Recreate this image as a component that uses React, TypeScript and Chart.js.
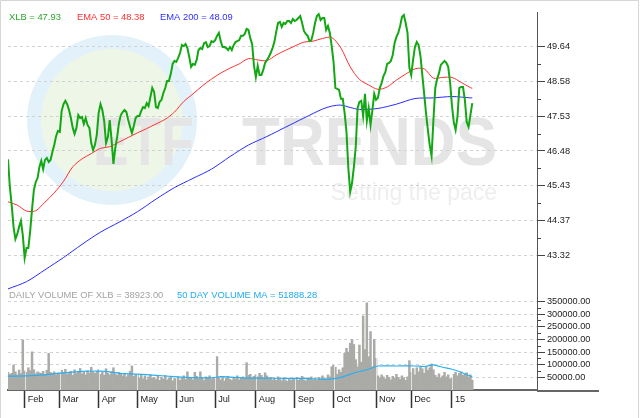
import React, { useEffect, useRef } from 'react';
import { Chart, registerables } from 'chart.js';

Chart.register(...registerables);

// ---------------- data ----------------
// x axis = trading-day index (0 = first session shown, late Jan 2014)
const monthDays = [9, 28, 49, 70, 91, 112, 134, 155, 176, 199, 218, 240];
const monthLabels = ['Feb', 'Mar', 'Apr', 'May', 'Jun', 'Jul', 'Aug', 'Sep', 'Oct', 'Nov', 'Dec', '15'];

const priceTicks = [43.32, 44.37, 45.43, 46.48, 47.53, 48.58, 49.64];
const volumeTicks = [50000, 100000, 150000, 200000, 250000, 300000, 350000];

const close = [
  46.23, 45.39, 44.84, 44.18, 43.81, 43.96, 44.18, 44.36, 43.93, 43.24,
  43.54, 43.54, 44.06, 44.72, 45.30, 45.54, 45.66, 46.00, 46.18, 45.93,
  46.21, 46.27, 46.15, 46.21, 46.45, 46.66, 46.93, 47.09, 47.06, 47.69,
  47.90, 48.00, 47.90, 47.72, 47.48, 47.18, 47.00, 47.18, 47.57, 47.48,
  47.51, 47.30, 47.48, 47.27, 47.18, 46.72, 46.51, 46.66, 46.97, 47.63,
  47.90, 47.72, 47.39, 46.72, 46.90, 47.42, 46.81, 46.09, 46.57, 46.90,
  47.33, 47.57, 47.66, 47.72, 47.66, 47.42, 47.21, 47.03, 47.24, 47.48,
  47.54, 47.54, 47.69, 47.81, 47.78, 47.93, 47.84, 48.12, 48.39, 48.27,
  47.81, 47.78, 47.97, 48.03, 48.24, 48.39, 48.60, 48.60, 48.81, 49.12,
  49.21, 49.18, 49.30, 49.45, 49.69, 49.66, 49.72, 49.60, 49.33, 49.03,
  49.12, 49.09, 49.24, 49.54, 49.60, 49.57, 49.75, 49.78, 49.63, 49.66,
  49.81, 49.78, 49.84, 49.97, 50.06, 49.81, 49.63, 49.63, 49.60, 49.54,
  49.63, 49.54, 49.69, 49.78, 49.81, 49.84, 49.97, 49.97, 50.03, 50.18,
  50.15, 49.90, 49.72, 49.06, 48.72, 49.06, 48.78, 48.78, 48.94, 49.15,
  49.24, 49.33, 49.45, 49.60, 49.78, 50.09, 50.36, 50.39, 50.24, 50.36,
  50.33, 50.42, 50.42, 50.36, 50.48, 50.42, 50.45, 50.51, 50.57, 50.36,
  50.12, 50.03, 49.97, 49.81, 49.84, 50.06, 50.36, 50.57, 50.63, 50.45,
  50.51, 50.51, 50.15, 50.27, 50.06, 49.66, 49.18, 48.39, 48.36, 48.33,
  48.06, 48.06, 47.63, 47.06, 45.96, 45.24, 45.51, 46.00, 46.60, 47.78,
  47.97, 48.00, 47.54, 48.21, 47.39, 47.78, 47.27, 47.72, 48.21, 48.03,
  48.09, 48.39, 48.54, 48.75, 48.87, 49.12, 49.15, 49.21, 49.39, 49.75,
  49.94, 50.06, 50.27, 50.54, 50.60, 50.36, 50.06, 49.00, 48.78, 49.24,
  49.63, 49.78, 49.69, 49.36, 48.78, 48.21, 47.63, 47.12, 46.66, 46.33,
  47.42, 48.39, 48.66, 48.84, 49.09, 49.15, 49.21, 49.15, 49.03, 48.57,
  47.87, 47.36, 47.12, 47.51, 48.39, 48.42, 48.42, 48.03, 47.36, 47.21,
  47.57, 47.93,
];

const ema50Days = [
  0, 5, 10, 15, 20, 25, 30, 35, 40, 45, 50, 55, 60, 65, 70, 75, 80, 85, 90, 95,
  100, 105, 110, 115, 120, 125, 130, 135, 140, 145, 150, 155, 160, 165, 170, 175,
  180, 185, 190, 195, 200, 205, 210, 215, 220, 225, 230, 235, 240, 245, 250, 251,
];
const ema50 = [
  44.94, 44.84, 44.66, 44.67, 44.93, 45.21, 45.56, 46.00, 46.24, 46.40, 46.56, 46.61,
  46.75, 46.89, 47.03, 47.16, 47.30, 47.44, 47.66, 47.98, 48.21, 48.45, 48.66, 48.84,
  48.99, 49.12, 49.28, 49.24, 49.22, 49.39, 49.53, 49.66, 49.78, 49.81, 49.89, 49.92,
  49.60, 49.03, 48.65, 48.48, 48.35, 48.42, 48.63, 48.81, 48.97, 48.97, 48.69, 48.71,
  48.71, 48.56, 48.40, 48.38,
];

const ema200Days = [
  0, 10, 20, 30, 40, 50, 60, 70, 80, 90, 100, 110, 120, 130, 140, 150, 160, 170, 175,
  180, 185, 190, 200, 210, 220, 230, 240, 250, 251,
];
const ema200 = [
  42.30, 42.52, 42.88, 43.25, 43.65, 44.02, 44.32, 44.64, 45.02, 45.37, 45.65, 45.93,
  46.31, 46.66, 46.92, 47.20, 47.48, 47.75, 47.84, 47.87, 47.80, 47.74, 47.77, 47.90,
  48.07, 48.09, 48.13, 48.09, 48.09,
];

// daily volume, thousands of shares
const volumeK = [
  70, 62, 66, 99, 72, 60, 79, 65, 198,
  75, 70, 88, 76, 151, 80, 64, 72, 68, 66, 74, 62, 78, 145, 70, 66, 72, 60, 68,
  64, 78, 70, 82, 62, 68, 74, 58, 80, 66, 72, 85, 64, 70, 60, 76, 68, 90, 72, 66, 74,
  80, 62, 70, 58, 84, 66, 60, 72, 88, 64, 58, 70, 62, 56, 66, 52, 60, 74, 95, 54, 62,
  58, 48, 62, 44, 56, 40, 52, 60, 46, 50, 42, 56, 38, 50, 44, 58, 40, 48, 54, 36, 46,
  44, 52, 38, 48, 56, 42, 72, 50, 46, 40, 70, 54, 44, 72, 48, 38, 52, 46, 56, 42, 50,
  44, 132, 48, 40, 52, 36, 46, 54, 42, 38, 50, 44, 56, 40, 48, 52, 46, 108, 58, 62, 48, 54,
  60, 52, 66, 58, 48, 68, 56, 44, 50, 40, 46, 38, 52, 42, 36, 48, 40, 34, 44, 38, 46,
  42, 50, 38, 46, 54, 40, 36, 48, 44, 52, 40, 46, 38, 50, 44, 56, 48, 42, 60, 52, 92,
  98, 90, 62, 80, 70, 88, 145, 165, 150, 185, 200, 180, 120, 92, 178, 110, 293, 160, 345, 132, 231, 92, 200,
  125, 56, 48, 60, 52, 44, 58, 50, 40, 54, 46, 62, 50, 42, 56, 48, 38, 52, 116,
  70, 85, 60, 88, 72, 90, 84, 66, 92, 78, 88, 103, 80, 58, 50, 64, 46, 56, 70, 52, 60, 44,
  48, 62, 70, 56, 66, 72, 58, 64, 68, 52, 60, 39,
];

const volMaDays = [
  0, 10, 20, 30, 40, 50, 55, 60, 70, 80, 90, 100, 110, 115, 120, 130, 140, 150, 160,
  170, 175, 180, 185, 190, 195, 200, 210, 220, 225, 230, 235, 240, 245, 251,
];
const volMaK = [
  55, 56, 60, 68, 74, 75, 72, 66, 63, 58, 53, 49, 48, 53, 51, 47, 47, 46, 46,
  43, 44, 50, 62, 73, 82, 95, 95, 95, 93, 99, 90, 82, 70, 52,
];

const legendPrice = [
  { text: 'XLB = 47.93', color: '#2aa82a' },
  { text: 'EMA 50 = 48.38', color: '#ff3030' },
  { text: 'EMA 200 = 48.09', color: '#3030ff' },
];
const legendVolume = [
  { text: 'DAILY VOLUME OF XLB = 38923.00', color: '#a3a3a3' },
  { text: '50 DAY VOLUME MA = 51888.28', color: '#22aaee' },
];

// ---------------- styling ----------------
const FAMILY = '"Liberation Sans", Arial, Helvetica, sans-serif';
const tickFont = { family: FAMILY, size: 9.2 };

const decorPlugin = {
  id: 'decor',
  afterLayout(chart: any) {
    // both right-hand axes share the same column next to the plot
    const left = chart.chartArea.right;
    ['y', 'yVol'].forEach((id) => {
      const s = chart.scales[id];
      s.left = left;
      s.right = chart.width;
      s.width = s.right - s.left;
    });
  },
  beforeDraw(chart: any) {
    const ctx = chart.ctx;
    ctx.save();
    // watermark
    ctx.fillStyle = '#e3f1fa';
    ctx.beginPath();
    ctx.arc(112, 120, 85, 0, Math.PI * 2);
    ctx.fill();
    ctx.fillStyle = '#eef6e8';
    ctx.beginPath();
    ctx.arc(112, 120, 71, 0, Math.PI * 2);
    ctx.fill();

    ctx.fillStyle = '#e5e5e5';
    ctx.textBaseline = 'alphabetic';
    ctx.font = 'bold 62px ' + FAMILY;
    ctx.save();
    ctx.translate(93, 165);
    ctx.scale(0.86, 1.12);
    ctx.textAlign = 'left';
    ctx.fillText('ETF', 0, 0);
    ctx.restore();
    ctx.save();
    ctx.translate(497, 165);
    ctx.scale(1, 1.12);
    ctx.textAlign = 'right';
    ctx.fillText('TRENDS', 0, 0);
    ctx.restore();

    ctx.fillStyle = '#eeeeee';
    ctx.textAlign = 'right';
    ctx.font = '23px ' + FAMILY;
    ctx.fillText('Setting the pace', 497, 200);
    ctx.restore();
  },
  afterDatasetDraw(chart: any, args: any) {
    if (args.index !== 4) return;
    const ctx = chart.ctx;
    const xs = chart.scales.x;
    const yv = chart.scales.yVol;
    ctx.save();
    ctx.strokeStyle = 'rgba(255,255,255,0.65)';
    ctx.lineWidth = 1;
    monthDays.forEach((d) => {
      const px = Math.round(xs.getPixelForValue(d)) + 0.5;
      ctx.beginPath();
      ctx.moveTo(px, yv.getPixelForValue(volumeTicks[volumeTicks.length - 1]));
      ctx.lineTo(px, chart.chartArea.bottom);
      ctx.stroke();
    });
    ctx.restore();
  },
  afterDraw(chart: any) {
    const ctx = chart.ctx;
    const area = chart.chartArea;
    const yp = chart.scales.y;
    const yv = chart.scales.yVol;
    ctx.save();

    // minor ticks on right axis
    ctx.strokeStyle = '#444';
    ctx.lineWidth = 1;
    const minor = (scale: any, ticks: number[]) => {
      for (let k = 0; k < ticks.length - 1; k++) {
        const py = Math.round(scale.getPixelForValue((ticks[k] + ticks[k + 1]) / 2)) + 0.5;
        ctx.beginPath();
        ctx.moveTo(area.right, py);
        ctx.lineTo(area.right + 4, py);
        ctx.stroke();
      }
    };
    minor(yp, priceTicks);
    minor(yv, volumeTicks);

    // extension of bottom axis line beyond the price axis
    ctx.strokeStyle = '#666';
    ctx.lineWidth = 2;
    ctx.beginPath();
    ctx.moveTo(area.right, area.bottom + 1);
    ctx.lineTo(599, area.bottom + 1);
    ctx.stroke();

    // outer frame
    ctx.strokeStyle = '#d6d6d6';
    ctx.lineWidth = 1;
    ctx.beginPath();
    ctx.moveTo(0.5, 418);
    ctx.lineTo(0.5, 0.5);
    ctx.lineTo(638.5, 0.5);
    ctx.lineTo(638.5, 418);
    ctx.stroke();

    // legends
    ctx.textBaseline = 'middle';
    ctx.textAlign = 'left';
    ctx.font = '9.4px ' + FAMILY;
    const xsPrice = [9, 77, 160];
    legendPrice.forEach((l, k) => {
      ctx.fillStyle = l.color;
      ctx.fillText(l.text, xsPrice[k], 17);
    });
    const xsVol = [9, 177];
    legendVolume.forEach((l, k) => {
      ctx.fillStyle = l.color;
      ctx.fillText(l.text, xsVol[k], 295);
    });
    ctx.restore();
  },
};

export default function App() {
  const ref = useRef<HTMLCanvasElement>(null);

  useEffect(() => {
    const canvas = ref.current;
    if (!canvas) return;

    const chart = new Chart(canvas, {
      type: 'bar',
      data: {
        datasets: [
          {
            type: 'line',
            label: 'XLB',
            data: close.map((v, i) => ({ x: i, y: v })),
            borderColor: '#13a813',
            borderWidth: 2,
            pointRadius: 0,
            tension: 0,
            yAxisID: 'y',
            order: 1,
          },
          {
            type: 'line',
            label: 'EMA 50',
            data: ema50Days.map((d, k) => ({ x: d, y: ema50[k] })),
            borderColor: '#ff3030',
            borderWidth: 1,
            pointRadius: 0,
            tension: 0.3,
            yAxisID: 'y',
            order: 2,
          },
          {
            type: 'line',
            label: 'EMA 200',
            data: ema200Days.map((d, k) => ({ x: d, y: ema200[k] })),
            borderColor: '#2a2aff',
            borderWidth: 1,
            pointRadius: 0,
            tension: 0.3,
            yAxisID: 'y',
            order: 3,
          },
          {
            type: 'line',
            label: '50 DAY VOLUME MA',
            data: volMaDays.map((d, k) => ({ x: d, y: volMaK[k] * 1000 })),
            borderColor: '#2ab0f0',
            borderWidth: 1.2,
            pointRadius: 0,
            tension: 0.2,
            yAxisID: 'yVol',
            order: 4,
          },
          {
            type: 'bar',
            label: 'DAILY VOLUME OF XLB',
            data: volumeK.map((v, i) => ({ x: i, y: v * 1000 })),
            backgroundColor: '#aaaaa7',
            borderWidth: 0,
            barPercentage: 1,
            categoryPercentage: 1,
            yAxisID: 'yVol',
            order: 10,
          },
        ],
      } as any,
      options: {
        responsive: false,
        maintainAspectRatio: false,
        animation: false,
        events: [],
        layout: { padding: { left: 8, top: 12, right: 0, bottom: 0 } },
        plugins: { legend: { display: false }, tooltip: { enabled: false } },
        scales: {
          x: {
            type: 'linear',
            min: 0,
            max: 286,
            offset: false,
            grid: {
              drawOnChartArea: false,
              drawTicks: true,
              tickLength: 18,
              tickColor: '#333',
              tickWidth: 1.5,
              offset: false,
            },
            border: { display: true, color: '#666', width: 2 },
            ticks: {
              autoSkip: false,
              maxRotation: 0,
              padding: -14,
              labelOffset: 3,
              align: 'start',
              font: tickFont,
              color: '#222',
              callback: (v: any) => {
                const k = monthDays.indexOf(Number(v));
                return k >= 0 ? monthLabels[k] : '';
              },
            },
            afterBuildTicks: (s: any) => {
              s.ticks = monthDays.map((v) => ({ value: v }));
            },
            afterFit: (s: any) => {
              s.height = 28;
            },
          },
          y: {
            type: 'linear',
            position: 'right',
            min: 39.236,
            max: 50.693,
            beginAtZero: false,
            grid: { color: '#d2d2d2', lineWidth: 1, tickColor: '#444', tickLength: 8, tickWidth: 1 },
            border: { display: true, color: '#555', width: 1, dash: [3, 3] },
            ticks: {
              padding: 2,
              font: tickFont,
              color: '#222',
              callback: (v: any) => Number(v).toFixed(2),
            },
            afterBuildTicks: (s: any) => {
              s.ticks = priceTicks.map((v) => ({ value: v }));
            },
            afterFit: (s: any) => {
              s.width = 103;
            },
          },
          yVol: {
            type: 'linear',
            position: 'right',
            min: 0,
            max: 1495000,
            beginAtZero: true,
            grid: { color: '#d2d2d2', lineWidth: 1, tickColor: '#444', tickLength: 8, tickWidth: 1 },
            border: { display: true, color: '#555', width: 1, dash: [3, 3] },
            ticks: {
              padding: 2,
              font: tickFont,
              color: '#222',
              callback: (v: any) => Number(v).toFixed(2),
            },
            afterBuildTicks: (s: any) => {
              s.ticks = volumeTicks.map((v) => ({ value: v }));
            },
            afterFit: (s: any) => {
              s.width = 0;
            },
          },
        },
      } as any,
      plugins: [decorPlugin],
    });

    return () => chart.destroy();
  }, []);

  return (
    <div style={{ position: 'fixed', left: 0, top: 0, width: 640, height: 418, background: '#ffffff' }}>
      <canvas ref={ref} width={640} height={418} style={{ display: 'block', width: 640, height: 418 }} />
    </div>
  );
}
